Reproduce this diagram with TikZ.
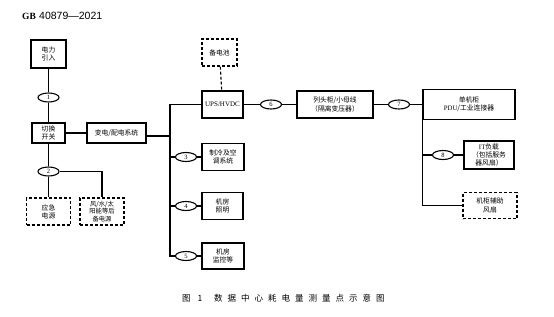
\documentclass[tikz,border=0pt]{standalone}
\usepackage{fontspec}
\setmainfont{Liberation Serif}
\newfontfamily\cjk{Noto Sans CJK SC}
\newfontfamily\hsans{Liberation Sans}
\usetikzlibrary{shapes.geometric,calc}
\tikzset{
  box/.style={draw,line width=1.3pt,inner sep=1pt,align=center,
    font=\fontsize{6.8}{8.2}\selectfont\cjk},
  dbox/.style={box,line width=1.1pt,dash pattern=on 3pt off 2pt},
  num/.style={draw,ellipse,line width=1.1pt,minimum width=21pt,minimum height=9pt,
    inner sep=0pt,font=\fontsize{6.5}{6.5}\selectfont},
  conn/.style={line width=1.1pt},
  dconn/.style={line width=1.1pt,dash pattern=on 3pt off 2pt}
}
\begin{document}
\begin{tikzpicture}[x=1pt,y=-1pt]
\useasboundingbox (0,0) rectangle (554,316);
% header
\node[anchor=base west,inner sep=0pt,font=\fontsize{9.5}{9.5}\selectfont\bfseries] (hdr) at (22,19) {GB};
\node[anchor=base west,inner sep=0pt,font=\fontsize{10.5}{10.5}\selectfont\hsans] (hdrnum) at (39,19) {40879—2021};
% left part
\node[box,minimum width=35pt,minimum height=28pt] (power) at (48.5,54) {电力\\引入};
\node[num] (e1) at (48.5,97.5) {1};
\node[box,minimum width=33pt,minimum height=20pt] (switch) at (48.5,133) {切换\\开关};
\node[box,minimum width=59pt,minimum height=20pt] (trans) at (116.5,133) {变电/配电系统};
\node[num] (e2) at (48.5,171.5) {2};
\node[dbox,minimum width=44pt,minimum height=27pt] (emerg) at (48.5,211.5) {应急\\电源};
\node[dbox,minimum width=44pt,minimum height=27pt,font=\fontsize{6.3}{7.2}\selectfont\cjk] (renew) at (102,211.5) {风/水/太\\阳能等后\\备电源};
% middle part
\node[dbox,minimum width=35pt,minimum height=27pt] (battery) at (219.5,52.5) {备电池};
\node[box,minimum width=41pt,minimum height=27pt,font=\fontsize{7}{8}\selectfont] (ups) at (222.5,104.5) {UPS/HVDC};
\node[num] (e3) at (186,157) {3};
\node[box,minimum width=42pt,minimum height=27pt] (cool) at (223,157) {制冷及空\\调系统};
\node[num] (e4) at (186,206) {4};
\node[box,minimum width=41pt,minimum height=27pt] (light) at (222.5,206) {机房\\照明};
\node[num] (e5) at (186,256) {5};
\node[box,minimum width=42pt,minimum height=26pt] (monitor) at (223,256) {机房\\监控等};
\coordinate (bustop) at (170,104.5);
\coordinate (busmid) at (170,136);
\coordinate (busbot) at (170,256);
% right part
\node[num] (e6) at (271,104.5) {6};
\node[box,minimum width=76pt,minimum height=27pt] (pdu) at (335,104.5) {列头柜/小母线\\（隔离变压器）};
\node[num] (e7) at (399,104.5) {7};
\node[box,minimum width=92pt,minimum height=30pt] (rack) at (469,104.5) {单机柜\\{\rmfamily PDU}/工业连接器};
\node[num] (e8) at (443,155) {8};
\node[box,minimum width=50pt,minimum height=28pt] (it) at (489,155) {{\rmfamily IT}负载\\（包括服务\\器风扇）};
\node[dbox,minimum width=54pt,minimum height=26pt] (fan) at (490,205.5) {机柜辅助\\风扇};
% connectors
\draw[conn] (power) -- (e1);
\draw[conn] (e1) -- (switch);
\draw[conn] (switch) -- (trans);
\draw[conn] (switch) -- (e2);
\draw[conn] (e2) -- (emerg);
\draw[conn] (e2.east) -| (renew.north);
\draw[conn] (trans.east |- busmid) -- (busmid);
\draw[conn] (ups.west) -- (bustop) -- (busbot) -- (e5.west);
\draw[conn] (e3.west -| bustop) -- (e3.west);
\draw[conn] (e4.west -| bustop) -- (e4.west);
\draw[conn] (e3) -- (cool);
\draw[conn] (e4) -- (light);
\draw[conn] (e5) -- (monitor);
\draw[dconn] (battery) -- (ups);
\draw[conn] (ups) -- (e6);
\draw[conn] (e6) -- (pdu);
\draw[conn] (pdu) -- (e7);
\draw[conn] (e7) -- (rack);
\draw[conn] (rack.west) -- (rack.west |- fan.west) -- (fan.west);
\draw[conn] (rack.west |- e8.west) -- (e8.west);
\draw[conn] (e8) -- (it);
% caption
\node[anchor=base west,inner sep=0pt,font=\fontsize{8.5}{8.5}\selectfont\cjk] (capnum) at (182,301) {图\hspace{7pt}1};
\node[anchor=base west,inner sep=0pt,font=\fontsize{8.5}{8.5}\selectfont\cjk] (captitle) at (214,301)
  {数\kern5pt 据\kern5pt 中\kern5pt 心\kern5pt 耗\kern5pt 电\kern5pt 量\kern5pt 测\kern5pt 量\kern5pt 点\kern5pt 示\kern5pt 意\kern5pt 图};
\end{tikzpicture}
\end{document}
